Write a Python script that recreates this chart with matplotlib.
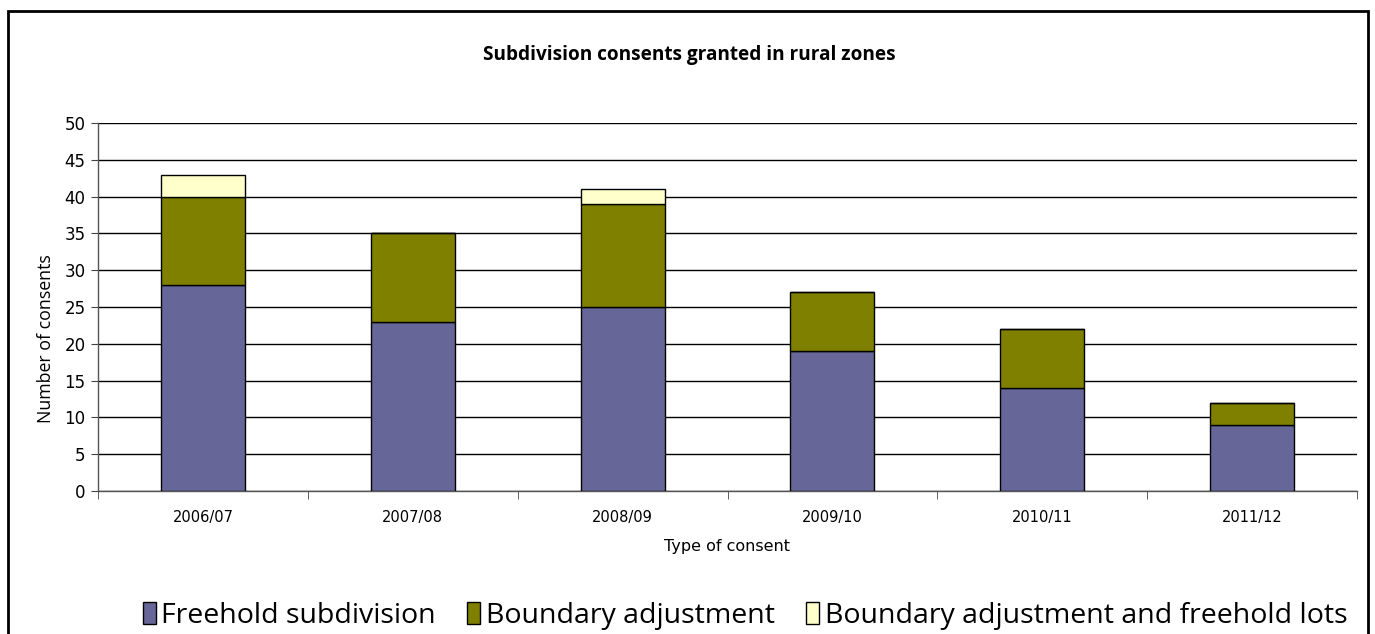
import matplotlib
matplotlib.use("Agg")
import matplotlib.pyplot as plt
from matplotlib.patches import Rectangle
import numpy as np

# Consent counts per financial year
years = ["2006/07", "2007/08", "2008/09", "2009/10", "2010/11", "2011/12"]
freehold = [28, 23, 25, 19, 14, 9]
boundary = [12, 12, 14, 8, 8, 3]
boundary_lots = [3, 0, 2, 0, 0, 0]

series_names = ["Freehold subdivision", "Boundary adjustment",
                "Boundary adjustment and freehold lots"]
colors = ["#666699", "#808000", "#FFFFCC"]

W, H = 1375, 634
fig = plt.figure(figsize=(W / 100, H / 100), dpi=100)
fig.patch.set_facecolor("white")

# Outer chart frame
fig.add_artist(Rectangle((8 / W, -0.05), (1368 - 8) / W, 1.05 - 11 / H,
                         transform=fig.transFigure, fill=False,
                         edgecolor="black", linewidth=2))

ax = fig.add_axes([98 / W, 1 - 491 / H, (1357 - 98) / W, (491 - 123) / H])

x = np.arange(len(years))
bottoms = np.zeros(len(years))
for vals, col, name in zip([freehold, boundary, boundary_lots], colors, series_names):
    vals = np.array(vals, dtype=float)
    ax.bar(x, vals, width=0.4, bottom=bottoms, color=col, edgecolor="black",
           linewidth=1, label=name, zorder=3)
    bottoms += vals

ax.set_xlim(-0.5, len(years) - 0.5)
ax.set_ylim(0, 50)
ax.set_yticks(range(0, 51, 5))
ax.yaxis.grid(True, color="black", linewidth=1, zorder=0)
ax.set_axisbelow(True)

ax.set_xticks(x)
ax.set_xticklabels(years, fontsize=10.5, family="DejaVu Sans")
ax.set_xticks(np.arange(-0.5, len(years) + 0.5, 1), minor=True)
ax.tick_params(axis="x", which="major", length=0, pad=14)
ax.tick_params(axis="x", which="minor", length=6, color="#444444", direction="out")
ax.tick_params(axis="y", length=5, color="#444444", direction="out", labelsize=12, pad=4)
for lbl in ax.get_yticklabels():
    lbl.set_family("DejaVu Sans")

for side in ("top", "right"):
    ax.spines[side].set_visible(False)
for side in ("left", "bottom"):
    ax.spines[side].set_color("#555555")
    ax.spines[side].set_linewidth(1)

ax.set_ylabel("Number of consents", fontsize=12.8, family="Open Sans", labelpad=2)
ax.yaxis.set_label_coords(-0.034, 0.415)
ax.set_xlabel("Type of consent", fontsize=11.5, family="DejaVu Sans", labelpad=10)

fig.text(689 / W, 1 - 55 / H, "Subdivision consents granted in rural zones",
         ha="center", va="center", fontsize=13.7, fontweight="bold", family="Open Sans")

handles, labels = ax.get_legend_handles_labels()
fig.legend(handles, labels, loc="center", bbox_to_anchor=(745 / W, 1 - 616 / H),
           ncol=3, frameon=False, handlelength=0.45, handleheight=0.8,
           handletextpad=0.2, columnspacing=1.1,
           prop={"family": "Open Sans", "size": 20.5})

fig.savefig("out.png", dpi=100, facecolor="white")
